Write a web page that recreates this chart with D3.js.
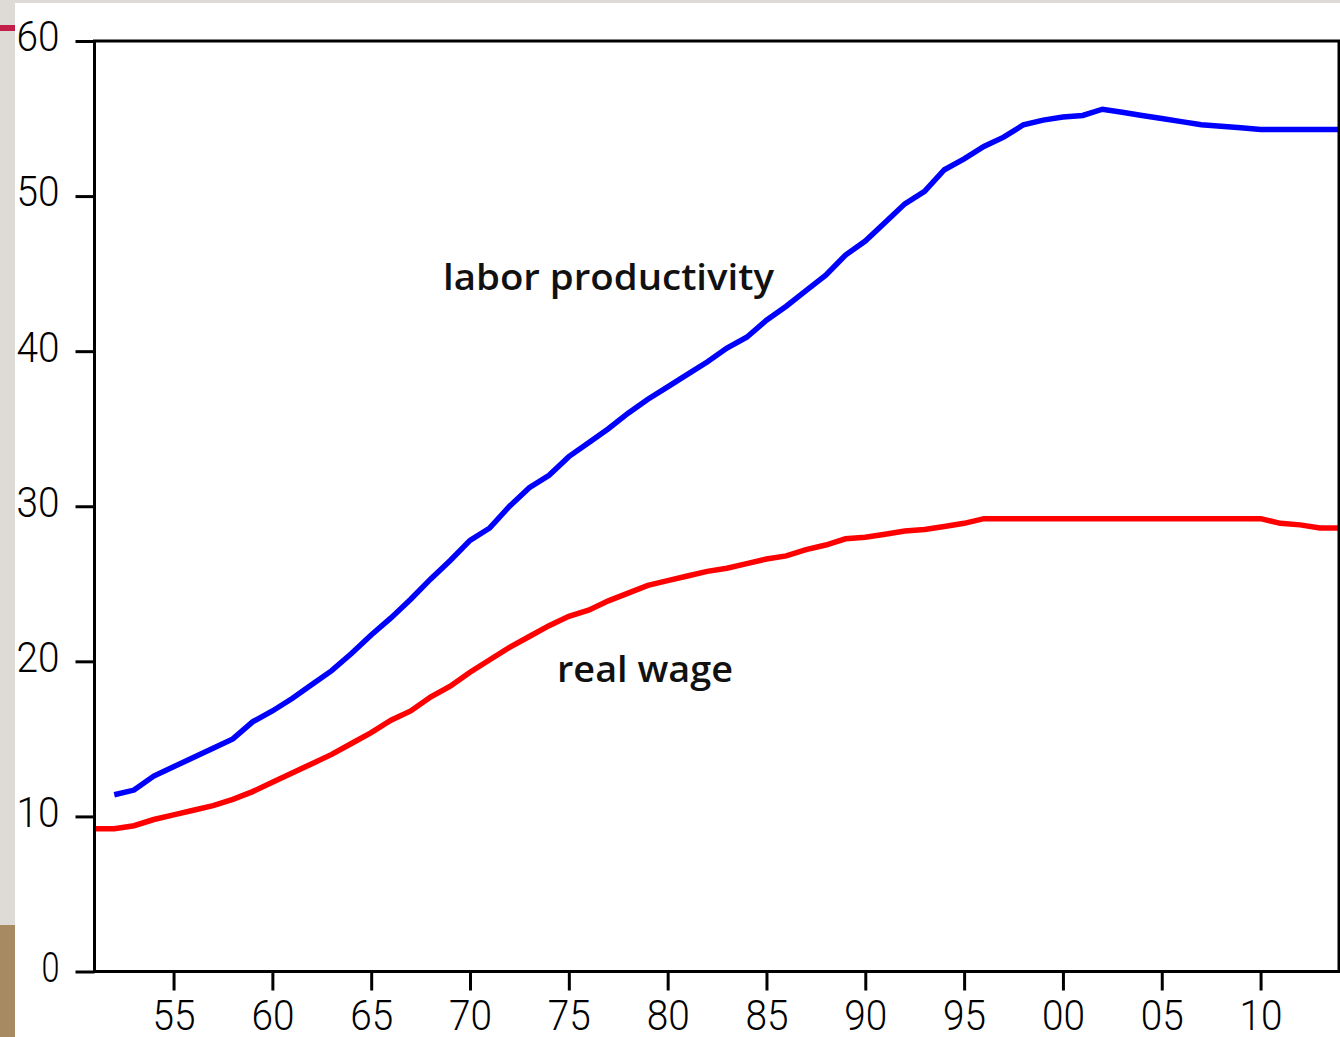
<!DOCTYPE html>
<html>
<head>
<meta charset="utf-8">
<script src="https://cdn.jsdelivr.net/npm/d3@7"></script>
<style>
  body { margin: 0; background: #fff; }
  svg { display: block; }
  .tick text { font-family: Roboto, "Liberation Sans", Arial, sans-serif; font-weight: 300; fill: #000; }
  .note { font-family: "Open Sans", "DejaVu Sans", sans-serif; font-weight: 600; fill: #111; }
</style>
</head>
<body>
<div id="chart"></div>
<script>
// years shown on the axis (two-digit labels)
var x_ticks = [1955, 1960, 1965, 1970, 1975, 1980, 1985, 1990, 1995, 2000, 2005, 2010];
var y_ticks = [0, 10, 20, 30, 40, 50, 60];

var years = [1951, 1952, 1953, 1954, 1955, 1956, 1957, 1958, 1959, 1960,
             1961, 1962, 1963, 1964, 1965, 1966, 1967, 1968, 1969, 1970,
             1971, 1972, 1973, 1974, 1975, 1976, 1977, 1978, 1979, 1980,
             1981, 1982, 1983, 1984, 1985, 1986, 1987, 1988, 1989, 1990,
             1991, 1992, 1993, 1994, 1995, 1996, 1997, 1998, 1999, 2000,
             2001, 2002, 2003, 2004, 2005, 2006, 2007, 2008, 2009, 2010,
             2011, 2012, 2013, 2014];

// labor productivity starts in 1952
var productivity = [null, 11.4, 11.7, 12.6, 13.2, 13.8, 14.4, 15.0, 16.1, 16.8,
                    17.6, 18.5, 19.4, 20.5, 21.7, 22.8, 24.0, 25.3, 26.5, 27.8,
                    28.6, 30.0, 31.2, 32.0, 33.2, 34.1, 35.0, 36.0, 36.9, 37.7,
                    38.5, 39.3, 40.2, 40.9, 42.0, 42.9, 43.9, 44.9, 46.2, 47.1,
                    48.3, 49.5, 50.3, 51.7, 52.4, 53.2, 53.8, 54.6, 54.9, 55.1,
                    55.2, 55.6, 55.4, 55.2, 55.0, 54.8, 54.6, 54.5, 54.4, 54.3,
                    54.3, 54.3, 54.3, 54.3];

var real_wage = [9.2, 9.2, 9.4, 9.8, 10.1, 10.4, 10.7, 11.1, 11.6, 12.2,
                 12.8, 13.4, 14.0, 14.7, 15.4, 16.2, 16.8, 17.7, 18.4, 19.3,
                 20.1, 20.9, 21.6, 22.3, 22.9, 23.3, 23.9, 24.4, 24.9, 25.2,
                 25.5, 25.8, 26.0, 26.3, 26.6, 26.8, 27.2, 27.5, 27.9, 28.0,
                 28.2, 28.4, 28.5, 28.7, 28.9, 29.2, 29.2, 29.2, 29.2, 29.2,
                 29.2, 29.2, 29.2, 29.2, 29.2, 29.2, 29.2, 29.2, 29.2, 29.2,
                 28.9, 28.8, 28.6, 28.6];

var W = 1340, H = 1037;
var plot_l = 94.5, plot_r = 1339, plot_t = 41, plot_b = 971.5;

var svg = d3.select("#chart").append("svg").attr("width", W).attr("height", H);

// slide background bits peeking in at the edges
svg.append("rect").attr("x", 0).attr("y", 0).attr("width", W).attr("height", 3).attr("fill", "#dedbd6");
svg.append("rect").attr("x", 0).attr("y", 0).attr("width", 15).attr("height", 925).attr("fill", "#dedbd6");
svg.append("rect").attr("x", 0).attr("y", 25).attr("width", 15).attr("height", 6).attr("fill", "#c41e4a");
svg.append("rect").attr("x", 0).attr("y", 925).attr("width", 15).attr("height", H - 925).attr("fill", "#a88a62");

var x = d3.scaleLinear().domain([1951, 1951 + (plot_r - plot_l) / 19.764]).range([plot_l, plot_r]);
var y = d3.scaleLinear().domain([0, 60]).range([plot_b, plot_t]);

svg.append("clipPath").attr("id", "plotclip").append("rect")
    .attr("x", plot_l).attr("y", plot_t).attr("width", plot_r - plot_l).attr("height", plot_b - plot_t);

var line = d3.line()
        .defined(function (d) { return d[1] !== null; })
        .x(function (d) { return x(d[0]); })
        .y(function (d) { return y(d[1]); });

var g_lines = svg.append("g").attr("clip-path", "url(#plotclip)");

g_lines.append("path")
        .datum(years.map(function (yr, i) { return [yr, real_wage[i]]; }))
        .attr("d", line).attr("fill", "none").attr("stroke", "#ff0000").attr("stroke-width", 5.5);

g_lines.append("path")
        .datum(years.map(function (yr, i) { return [yr, productivity[i]]; }))
        .attr("d", line).attr("fill", "none").attr("stroke", "#0000ff").attr("stroke-width", 5.5);

// frame
svg.append("rect").attr("x", plot_l).attr("y", plot_t).attr("width", plot_r - plot_l).attr("height", plot_b - plot_t)
        .attr("fill", "none").attr("stroke", "#000").attr("stroke-width", 3);

// y axis
var g_y = svg.append("g").attr("transform", "translate(" + plot_l + ",0)")
        .call(d3.axisLeft(y).tickValues(y_ticks).tickSize(19).tickPadding(16).tickFormat(d3.format("d")));
g_y.select(".domain").remove();
g_y.selectAll(".tick line").attr("stroke", "#000").attr("stroke-width", 3);
g_y.selectAll(".tick text").attr("font-size", 43).attr("dy", "0.23em")
        .attr("textLength", function (d) { return String(d).length > 1 ? 43 : 18; })
        .attr("lengthAdjust", "spacingAndGlyphs");

// x axis
var g_x = svg.append("g").attr("transform", "translate(0," + plot_b + ")")
        .call(d3.axisBottom(x).tickValues(x_ticks).tickSize(19).tickPadding(9)
        .tickFormat(function (d) { return d3.format("02d")(d % 100); }));
g_x.select(".domain").remove();
g_x.selectAll(".tick line").attr("stroke", "#000").attr("stroke-width", 3);
g_x.selectAll(".tick text").attr("font-size", 43).attr("dy", "0.72em")
        .attr("textLength", 43).attr("lengthAdjust", "spacingAndGlyphs");

// series labels
svg.append("text").attr("class", "note").attr("x", 443).attr("y", 290)
        .attr("font-size", 36).attr("textLength", 331).attr("lengthAdjust", "spacingAndGlyphs")
        .text("labor productivity");
svg.append("text").attr("class", "note").attr("x", 557).attr("y", 682)
        .attr("font-size", 36).attr("textLength", 176).attr("lengthAdjust", "spacingAndGlyphs")
        .text("real wage");
</script>
</body>
</html>
